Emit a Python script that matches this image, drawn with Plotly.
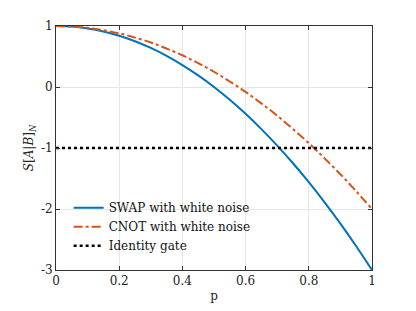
import plotly.graph_objects as go

p = [0, 0.05, 0.1, 0.15, 0.2, 0.25, 0.3, 0.35, 0.4, 0.45, 0.5, 0.55, 0.6, 0.65, 0.7, 0.75, 0.8, 0.85, 0.9, 0.95, 1.0]
swap = [1, 0.99, 0.96, 0.91, 0.84, 0.75, 0.64, 0.51, 0.36, 0.19, 0, -0.21, -0.44, -0.69, -0.96, -1.25, -1.56, -1.89, -2.24, -2.61, -3]
cnot = [1, 0.99, 0.97, 0.93, 0.88, 0.81, 0.73, 0.63, 0.52, 0.39, 0.25, 0.09, -0.08, -0.27, -0.47, -0.69, -0.92, -1.17, -1.43, -1.71, -2]
ident_x = [0, 1]
ident_y = [-1, -1]

xticks = [0, 0.2, 0.4, 0.6, 0.8, 1]
xticklabels = ["0", "0.2", "0.4", "0.6", "0.8", "1"]
yticks = [1, 0, -1, -2, -3]
yticklabels = ["1", "0", "-1", "-2", "-3"]

font = "DejaVu Serif"

fig = go.Figure()
fig.add_trace(go.Scatter(x=p, y=swap, mode="lines", name="SWAP with white noise",
                         line=dict(color="#0072BD", width=2, shape="spline")))
fig.add_trace(go.Scatter(x=p, y=cnot, mode="lines", name="CNOT with white noise",
                         line=dict(color="#D95319", width=2, dash="dashdot", shape="spline")))
fig.add_trace(go.Scatter(x=ident_x, y=ident_y, mode="lines", name="Identity gate",
                         line=dict(color="black", width=2.5, dash="dot")))

axis_common = dict(showgrid=True, gridcolor="#E6E6E6", gridwidth=1,
                   showline=True, linecolor="#333333", linewidth=1, mirror="ticks",
                   ticks="inside", ticklen=4, tickcolor="#333333", zeroline=False,
                   tickfont=dict(family=font, size=12, color="#222222"))

fig.update_layout(
    width=416, height=311,
    margin=dict(l=48, r=52, t=18, b=49),
    paper_bgcolor="white", plot_bgcolor="white",
    font=dict(family=font, size=12, color="#222222"),
    showlegend=True,
    legend=dict(x=0.04, y=0.315, xanchor="left", yanchor="top",
                bgcolor="rgba(255,255,255,0)", borderwidth=0,
                font=dict(family=font, size=12, color="#111111"),
                itemwidth=30, tracegroupgap=0),
    xaxis=dict(range=[0, 1], tickvals=xticks, ticktext=xticklabels,
               title=dict(text="p", font=dict(family=font, size=12), standoff=4), **axis_common),
    yaxis=dict(range=[-3, 1], tickvals=yticks, ticktext=yticklabels,
               title=dict(text="<i>S</i>[<i>A</i>|<i>B</i>]<sub><i>N</i></sub>", font=dict(family=font, size=12), standoff=4),
               **axis_common),
)

fig.write_html("out.html")
